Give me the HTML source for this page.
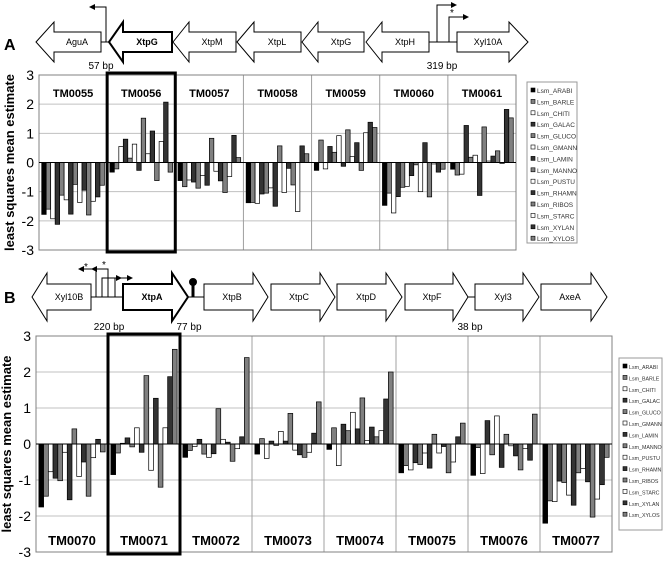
<!DOCTYPE html>
<html><head><meta charset="utf-8"><style>
body{margin:0;background:#fff;width:664px;height:561px;overflow:hidden}
svg{display:block;font-family:"Liberation Sans",sans-serif}
</style></head><body>
<svg id="fig" width="664" height="561" viewBox="0 0 664 561">
<defs><marker id="ah" markerWidth="6" markerHeight="6" refX="5" refY="3" orient="auto"><path d="M0,0 L6,3 L0,6 z" fill="#000"/></marker></defs>
<g id="geneA" stroke="#000" fill="#fff" stroke-width="1">
<text x="4" y="50" font-size="16" font-weight="bold" stroke="none" fill="#000">A</text>
<line x1="101" y1="42" x2="109" y2="42"/><line x1="429" y1="42" x2="457" y2="42"/>
<path d="M36,42 L54,22 L54,32 L101,32 L101,52 L54,52 L54,62 Z"/>
<path d="M109,42 L123,22 L123,32 L172,32 L172,52 L123,52 L123,62 Z" stroke-width="2"/>
<path d="M173,42 L189,22 L189,32 L236,32 L236,52 L189,52 L189,62 Z"/>
<path d="M237,42 L254,22 L254,32 L301,32 L301,52 L254,52 L254,62 Z"/>
<path d="M302,42 L318,22 L318,32 L364,32 L364,52 L318,52 L318,62 Z"/>
<path d="M366,42 L382,22 L382,32 L429,32 L429,52 L382,52 L382,62 Z"/>
<path d="M457,32 L509,32 L509,22 L528,42 L509,62 L509,52 L457,52 Z"/>
<polyline points="106,42 106,7 90,7" fill="none" marker-end="url(#ah)"/>
<polyline points="437,42 437,5 456,5" fill="none" marker-end="url(#ah)"/>
<polyline points="449,42 449,17 468,17" fill="none" marker-end="url(#ah)"/>
<g stroke="none" fill="#000" font-size="9" text-anchor="middle">
<text x="77" y="45">AguA</text><text x="147" y="45" font-weight="bold">XtpG</text><text x="212" y="45">XtpM</text><text x="277" y="45">XtpL</text><text x="341" y="45">XtpG</text><text x="405" y="45">XtpH</text><text x="488" y="45">Xyl10A</text>
<text x="452" y="16" font-size="10">*</text>
<text x="101" y="69" font-size="10">57 bp</text><text x="442" y="69" font-size="10">319 bp</text>
</g></g>
<g id="geneB" stroke="#000" fill="#fff" stroke-width="1">
<text x="4" y="303" font-size="16" font-weight="bold" stroke="none" fill="#000">B</text>
<line x1="91" y1="297" x2="123" y2="297"/><line x1="188" y1="297" x2="204" y2="297"/><line x1="468" y1="297" x2="475" y2="297"/>
<path d="M32,297 L47,273 L47,284 L91,284 L91,310 L47,310 L47,321 Z"/>
<path d="M123,284 L172,284 L172,273 L188,297 L172,321 L172,310 L123,310 Z" stroke-width="2"/>
<path d="M204,284 L253,284 L253,273 L268,297 L253,321 L253,310 L204,310 Z"/>
<path d="M271,284 L320,284 L320,273 L335,297 L320,321 L320,310 L271,310 Z"/>
<path d="M337,284 L386,284 L386,273 L402,297 L386,321 L386,310 L337,310 Z"/>
<path d="M405,284 L453,284 L453,273 L468,297 L453,321 L453,310 L405,310 Z"/>
<path d="M475,284 L523,284 L523,273 L539,297 L523,321 L523,310 L475,310 Z"/>
<path d="M541,284 L591,284 L591,273 L607,297 L591,321 L591,310 L541,310 Z"/>
<line x1="193" y1="297" x2="193" y2="284" stroke-width="3"/><circle cx="193" cy="282" r="3.5" fill="#000"/>
<polyline points="96,297 96,269 79,269" fill="none" marker-end="url(#ah)"/>
<polyline points="108,297 108,269 92,269" fill="none" marker-end="url(#ah)"/>
<polyline points="102,297 102,278 121,278" fill="none" marker-end="url(#ah)"/>
<polyline points="115,297 115,278 132,278" fill="none" marker-end="url(#ah)"/>
<g stroke="none" fill="#000" font-size="9" text-anchor="middle">
<text x="69" y="300">Xyl10B</text><text x="152" y="300" font-weight="bold">XtpA</text><text x="232" y="300">XtpB</text><text x="299" y="300">XtpC</text><text x="366" y="300">XtpD</text><text x="432" y="300">XtpF</text><text x="503" y="300">Xyl3</text><text x="570" y="300">AxeA</text>
<text x="86" y="270" font-size="10">*</text><text x="104" y="268" font-size="10">*</text>
<text x="109" y="330" font-size="10">220 bp</text><text x="189" y="330" font-size="10">77 bp</text><text x="470" y="330" font-size="10">38 bp</text>
</g></g>
<g id="chartA"></g>
<g id="chartB"></g>
</svg>
<script>
const seriesNames = ["Lsm_ARABI","Lsm_BARLE","Lsm_CHITI","Lsm_GALAC","Lsm_GLUCO","Lsm_GMANN","Lsm_LAMIN","Lsm_MANNO","Lsm_PUSTU","Lsm_RHAMN","Lsm_RIBOS","Lsm_STARC","Lsm_XYLAN","Lsm_XYLOS"];
const seriesColors = ["#000","#808080","#fff","#333","#808080","#fff","#333","#808080","#fff","#333","#808080","#fff","#333","#808080"];
const yTicks = [3,2,1,0,-1,-2,-3];
const genesA = ["TM0055","TM0056","TM0057","TM0058","TM0059","TM0060","TM0061"];
const valuesA = [
[-1.78,-1.6,-1.93,-2.12,-1.12,-1.28,-1.77,-0.75,-1.37,-0.95,-1.8,-1.33,-1.18,-0.78],
[-0.33,-0.22,0.55,0.8,0.15,0.63,-0.27,1.52,0.3,1.08,-0.62,0.72,2.07,-0.33],
[-0.62,-0.83,-0.6,-0.67,-0.88,-0.45,-0.78,0.83,-0.3,-0.63,-1.03,-0.48,0.93,0.17],
[-1.38,-1.37,-1.4,-1.08,-1.05,-0.87,-1.5,0.57,-1.03,-0.2,-0.77,-1.68,0.57,0.3],
[-0.27,0.77,-0.22,0.55,0.35,0.92,-0.13,1.12,0.2,0.68,-0.27,1.02,1.38,1.2],
[-1.47,-1.05,-1.73,-1.17,-0.85,-0.82,-0.45,-0.08,-1.0,0.68,-1.18,-0.05,-0.33,-0.23],
[-0.23,-0.43,-0.4,1.27,0.18,0.25,-1.13,1.22,0.05,0.22,0.4,-0.03,1.82,1.53]];
const genesB = ["TM0070","TM0071","TM0072","TM0073","TM0074","TM0075","TM0076","TM0077"];
const valuesB = [
[-1.75,-1.45,-0.77,-0.95,-1.02,-0.23,-1.55,0.42,-0.9,-0.5,-1.45,-0.38,0.13,-0.22],
[-0.85,-0.25,0.02,0.17,-0.08,0.45,-0.23,1.9,-0.73,1.27,-1.2,0.45,1.87,2.63],
[-0.37,-0.18,-0.07,0.13,-0.28,-0.37,-0.27,0.98,0.13,0.05,-0.48,-0.13,0.2,2.4],
[-0.28,0.15,-0.4,0.08,-0.04,0.35,0.08,0.85,-0.17,-0.3,-0.37,-0.23,0.3,1.17],
[-0.15,0.45,-0.6,0.55,0.37,0.88,0.42,1.28,0.1,0.47,0.2,0.37,1.25,2.0],
[-0.8,-0.6,-0.72,-0.52,-0.57,-0.25,-0.67,0.27,-0.25,-0.07,-0.8,-0.5,0.2,0.58],
[-0.87,-0.1,-0.82,0.65,-0.3,0.78,-0.65,0.27,-0.05,-0.33,-0.72,-0.13,-0.45,0.83],
[-2.2,-1.58,-1.6,-1.03,-1.07,-1.42,-1.7,-0.8,-0.68,-1.05,-2.03,-1.53,-1.13,-0.37]];
const NS="http://www.w3.org/2000/svg";
function mk(p,t,a,txt){const e=document.createElementNS(NS,t);for(const k in a)e.setAttribute(k,a[k]);if(txt!==undefined)e.textContent=txt;p.appendChild(e);return e;}
function chart(g,genes,vals,c){
  const y=v=>c.top+(3-v)/6*(c.bot-c.top);
  const gw=(c.right-c.left)/genes.length;
  const bw=gw*0.92/14;
  for(const t of yTicks){
    if(t!==3&&t!==-3){const l=mk(g,"line",{x1:c.left,x2:c.right,y1:y(t),y2:y(t),stroke:"#c0c0c0"});
    
    }
    const tx=mk(g,"text",{x:c.left-5,y:y(t)+5,"text-anchor":"end","font-size":14},String(t));
    
    
  }
  for(let i=1;i<genes.length;i++){const l=mk(g,"line",{x1:c.left+gw*i,x2:c.left+gw*i,y1:c.top,y2:c.bot,stroke:"#a0a0a0"});
    
    }
  const fr=mk(g,"rect",{x:c.left,y:c.top,width:c.right-c.left,height:c.bot-c.top,fill:"none",stroke:"#808080"});
  
  
  const z=y(0);
  genes.forEach((gn,i)=>{
    vals[i].forEach((v,j)=>{
      const r=mk(g,"rect",{x:c.left+gw*i+gw*0.04+bw*j,y:Math.min(z,y(v)),width:bw,height:Math.abs(y(v)-z),fill:seriesColors[j],stroke:"#000","stroke-width":0.7});
      
      
    });
    const t=mk(g,"text",{x:c.left+gw*(i+0.5),y:c.labelY,"text-anchor":"middle","font-size":c.lfs,"font-weight":"bold"},gn);
    
    
  });
  mk(g,"line",{x1:c.left,x2:c.right,y1:z,y2:z,stroke:"#000"});
  const hb=mk(g,"rect",{x:c.left+gw*c.hl,y:c.top-2,width:gw,height:c.bot-c.top+4,fill:"none",stroke:"#000","stroke-width":3});
  
  
  const yt=mk(g,"text",{x:0,y:0,transform:`translate(${c.left-25},${(c.top+c.bot)/2}) rotate(-90)`,"text-anchor":"middle","font-size":13,"font-weight":"bold"},"least squares mean estimate");
  
  
  const lg=mk(g,"g",{});
  
  
  mk(lg,"rect",{x:c.lx,y:c.ly,width:c.lw,height:c.lh,fill:"#fff",stroke:"#999"});
  seriesNames.forEach((s,j)=>{
    const yy=c.ly+5+j*c.lsp;
    const sw=mk(lg,"rect",{x:c.lx+4,y:yy+1,width:4,height:4,fill:seriesColors[j],stroke:"#000","stroke-width":0.6});
    
    
    const t=mk(lg,"text",{x:c.lx+10,y:yy+6,"font-size":c.lfont,fill:"#333"},s);
    
    
  });
}
chart(document.getElementById("chartA"),genesA,valuesA,{left:39,right:516,top:75,bot:250,labelY:97,lfs:11,hl:1,lx:527,ly:82,lw:50,lh:161,lsp:11.4,lfont:6.5});
chart(document.getElementById("chartB"),genesB,valuesB,{left:36,right:612,top:336,bot:552,labelY:545,lfs:13,hl:1,lx:619,ly:358,lw:43,lh:172,lsp:11.4,lfont:5.3});
</script>
</body></html>
